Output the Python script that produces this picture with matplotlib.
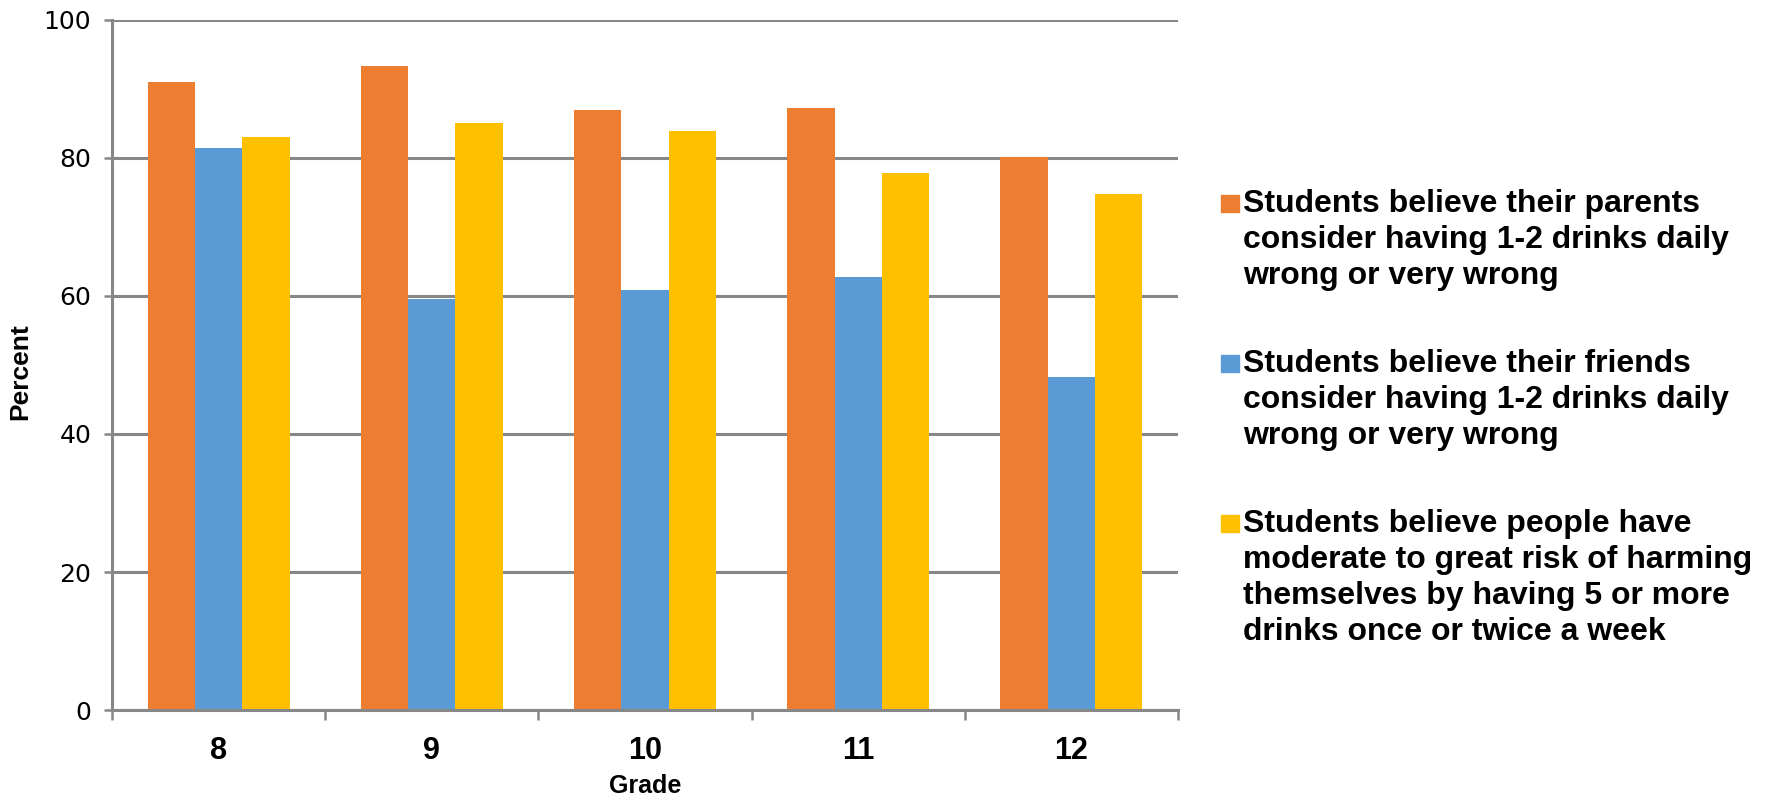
import numpy as np
import matplotlib
matplotlib.use("Agg")
import matplotlib.pyplot as plt
from matplotlib.patches import Rectangle

# --- dados ---
grades = ["8", "9", "10", "11", "12"]
parents_wrong = [91.0, 93.3, 87.0, 87.3, 80.1]
friends_wrong = [81.5, 59.5, 60.8, 62.7, 48.3]
risk_binge = [83.0, 85.0, 83.9, 77.8, 74.8]

series_labels = [
    "Students believe their parents\nconsider having 1-2 drinks daily\nwrong or very wrong",
    "Students believe their friends\nconsider having 1-2 drinks daily\nwrong or very wrong",
    "Students believe people have\nmoderate to great risk of harming\nthemselves by having 5 or more\ndrinks once or twice a week",
]
colors = ["#ED7D31", "#5B9BD5", "#FFC000"]
grid_col = "#878787"

plt.rcParams["font.family"] = ["Liberation Sans", "DejaVu Sans"]

fig = plt.figure(figsize=(17.72, 8), dpi=100)
ax = fig.add_axes([0.0632, 0.1125, 0.6016, 0.8625])

x = np.arange(len(grades))
w = 1 / 4.5
for i, vals in enumerate([parents_wrong, friends_wrong, risk_binge]):
    ax.bar(x + (i - 1) * w, vals, width=w, color=colors[i], zorder=3)

ax.set_xlim(-0.5, len(grades) - 0.5)
ax.set_ylim(0, 100)
ax.set_yticks(range(0, 101, 20))
ax.yaxis.grid(True, color=grid_col, linewidth=2.2, zorder=0)
ax.tick_params(axis="y", length=6, width=1.8, color=grid_col, pad=9,
               labelsize=18)
for t in ax.get_yticklabels():
    t.set_family("DejaVu Sans")

# ticks maiores nas divisões, rótulos no centro
ax.set_xticks(np.arange(-0.5, len(grades)), labels=[""] * (len(grades) + 1))
ax.set_xticks(x, labels=grades, minor=True)
ax.tick_params(axis="x", which="major", length=7, width=1.8, color=grid_col)
ax.tick_params(axis="x", which="minor", length=0, pad=19, labelsize=22)
for t in ax.get_xticklabels(minor=True):
    t.set_fontweight("bold")

for s in ["top", "right"]:
    ax.spines[s].set_visible(False)
for s in ["left", "bottom"]:
    ax.spines[s].set_color(grid_col)
    ax.spines[s].set_linewidth(2.2)
    ax.spines[s].set_zorder(4)

# títulos dos eixos
fig.text(0.0115, 0.536, "Percent", fontsize=19, fontweight="bold",
         rotation=90, ha="center", va="center")
fig.text(0.0632 + 0.6016 / 2, 0.0175, "Grade", fontsize=18, fontweight="bold",
         ha="center", va="center")

# --- legenda manual (marcador alinhado com a primeira linha) ---
tops = [0.764, 0.564, 0.364]
for lab, c, yt in zip(series_labels, colors, tops):
    fig.text(0.7015, yt, lab, fontsize=23, fontweight="bold", va="top",
             ha="left", linespacing=1.27)
    fig.add_artist(Rectangle((0.6893, yt - 0.029), 0.0098, 0.0215,
                             transform=fig.transFigure, color=c))

fig.savefig("out.png", dpi=100)
